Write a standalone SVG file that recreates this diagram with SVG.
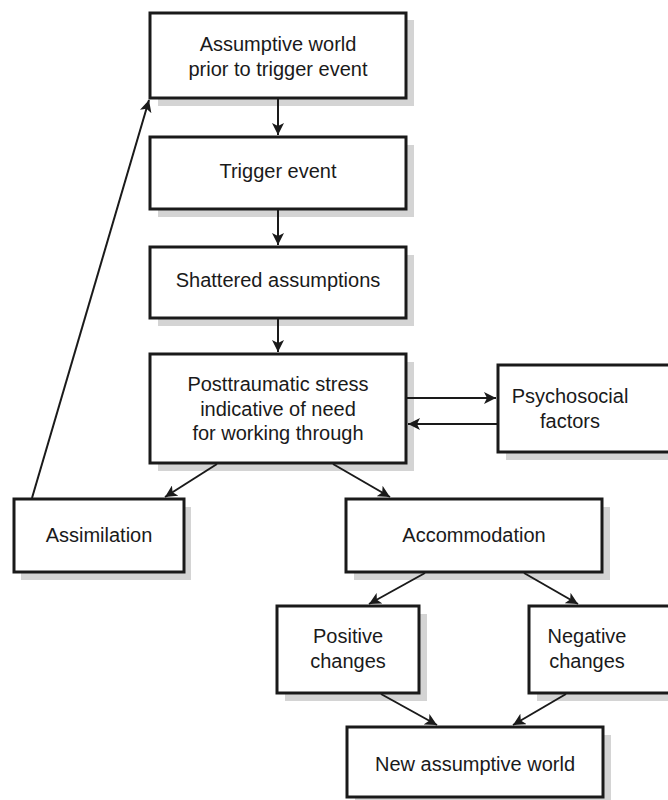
<svg xmlns="http://www.w3.org/2000/svg" width="668" height="800" viewBox="0 0 668 800">
  <style>
    .shadow { fill: #d4d4d4; }
    .box { fill: #ffffff; stroke: #1a1a1a; stroke-width: 3; }
    .label { font-family: "Liberation Sans", Arial, sans-serif; font-size: 20px; fill: #1a1a1a; text-anchor: middle; }
    .edge { stroke: #1a1a1a; stroke-width: 2; fill: none; marker-end: url(#arrow); }
  </style>
  <defs>
    <marker id="arrow" viewBox="0 0 10 10" refX="10" refY="5" markerWidth="6" markerHeight="6" markerUnits="strokeWidth" orient="auto">
      <path d="M0,0 L10,5 L0,10 L2.5,5 Z" fill="#1a1a1a"/>
    </marker>
  </defs>
  <rect width="668" height="800" fill="#ffffff"/>

  <g id="prior-world">
    <rect class="shadow" x="158" y="20" width="256" height="86"/>
    <rect class="box" x="150" y="13" width="256" height="85"/>
    <text class="label" x="278" y="51">Assumptive world</text>
    <text class="label" x="278" y="76">prior to trigger event</text>
  </g>

  <g id="trigger-event">
    <rect class="shadow" x="158" y="145" width="256" height="72"/>
    <rect class="box" x="150" y="137" width="256" height="72"/>
    <text class="label" x="278" y="178">Trigger event</text>
  </g>

  <g id="shattered">
    <rect class="shadow" x="158" y="255" width="256" height="71"/>
    <rect class="box" x="150" y="247" width="256" height="71"/>
    <text class="label" x="278" y="287">Shattered assumptions</text>
  </g>

  <g id="posttraumatic">
    <rect class="shadow" x="158" y="362" width="256" height="109"/>
    <rect class="box" x="150" y="354" width="256" height="109"/>
    <text class="label" x="278" y="391">Posttraumatic stress</text>
    <text class="label" x="278" y="416">indicative of need</text>
    <text class="label" x="278" y="440">for working through</text>
  </g>

  <g id="psychosocial">
    <rect class="shadow" x="506" y="373" width="170" height="87"/>
    <rect class="box" x="498" y="365" width="176" height="87"/>
    <text class="label" x="570" y="403">Psychosocial</text>
    <text class="label" x="570" y="428">factors</text>
  </g>

  <g id="assimilation">
    <rect class="shadow" x="21" y="507" width="170" height="73"/>
    <rect class="box" x="14" y="499" width="170" height="73"/>
    <text class="label" x="99" y="542">Assimilation</text>
  </g>

  <g id="accommodation">
    <rect class="shadow" x="354" y="507" width="256" height="73"/>
    <rect class="box" x="346" y="499" width="256" height="73"/>
    <text class="label" x="474" y="542">Accommodation</text>
  </g>

  <g id="positive">
    <rect class="shadow" x="285" y="614" width="142" height="87"/>
    <rect class="box" x="277" y="606" width="142" height="87"/>
    <text class="label" x="348" y="643">Positive</text>
    <text class="label" x="348" y="668">changes</text>
  </g>

  <g id="negative">
    <rect class="shadow" x="537" y="614" width="140" height="87"/>
    <rect class="box" x="529" y="606" width="146" height="87"/>
    <text class="label" x="587" y="643">Negative</text>
    <text class="label" x="587" y="668">changes</text>
  </g>

  <g id="new-world">
    <rect class="shadow" x="355" y="735" width="256" height="70"/>
    <rect class="box" x="347" y="727" width="256" height="70"/>
    <text class="label" x="475" y="771">New assumptive world</text>
  </g>

  <g id="connectors">
    <line class="edge" x1="278" y1="99" x2="278" y2="135"/>
    <line class="edge" x1="278" y1="210" x2="278" y2="245"/>
    <line class="edge" x1="278" y1="319" x2="278" y2="352"/>
    <line class="edge" x1="407" y1="398" x2="496" y2="398"/>
    <line class="edge" x1="497" y1="424" x2="408" y2="424"/>
    <line class="edge" x1="217" y1="464" x2="165" y2="497"/>
    <line class="edge" x1="333" y1="464" x2="390" y2="497"/>
    <line class="edge" x1="32" y1="498" x2="149" y2="100"/>
    <line class="edge" x1="425" y1="573" x2="369" y2="604"/>
    <line class="edge" x1="524" y1="573" x2="578" y2="604"/>
    <line class="edge" x1="381" y1="694" x2="437" y2="725"/>
    <line class="edge" x1="566" y1="694" x2="513" y2="725"/>
  </g>
</svg>
